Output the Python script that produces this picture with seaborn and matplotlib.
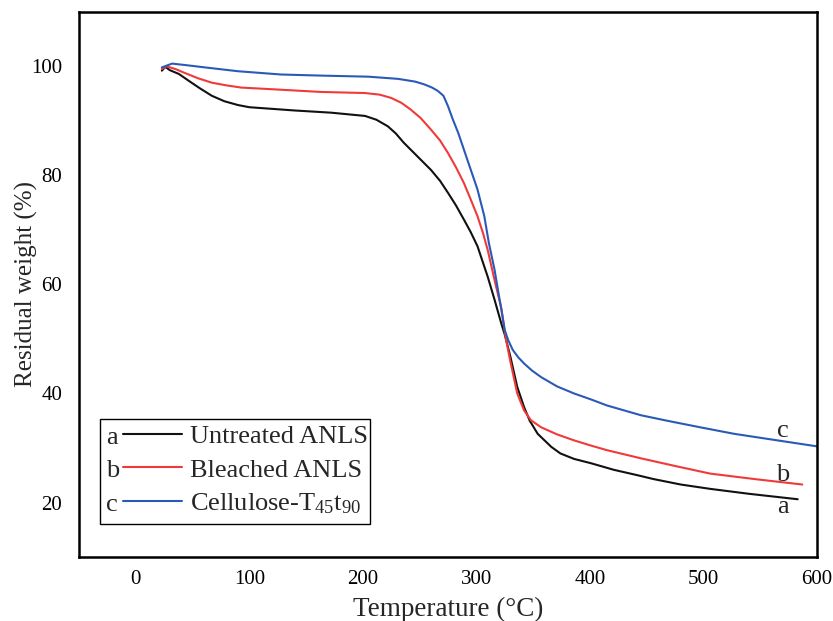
import pandas as pd
import matplotlib.pyplot as plt
import seaborn as sns
from matplotlib.legend_handler import HandlerLine2D
from matplotlib.patches import Rectangle

# Data (temperature in degC, residual weight in %)
temp_a = [23, 26, 30, 38, 47, 57, 67, 78, 90, 100, 120, 140, 172, 202, 212,
          222, 229, 236, 248, 260, 268, 275, 282, 289, 295, 301, 305, 310, 316,
          322, 325, 330, 336, 342, 347, 354, 366, 374, 386, 401, 421, 442, 456,
          480, 506, 540, 583]
weight_a = [99.2, 99.9, 99.3, 98.6, 97.3, 95.9, 94.6, 93.6, 92.9, 92.5, 92.2,
            91.9, 91.5, 90.9, 90.2, 89.0, 87.7, 86.0, 83.5, 81.0, 79.0, 76.8,
            74.5, 71.9, 69.6, 67.0, 64.5, 61.4, 57.2, 52.8, 50.8, 46.7, 41.2,
            37.5, 35.0, 32.6, 30.2, 29.0, 28.0, 27.2, 26.0, 25.0, 24.3, 23.3,
            22.5, 21.6, 20.6]

temp_b = [23, 27, 35, 43, 55, 67, 80, 93, 120, 163, 202, 215, 225, 234, 242,
          251, 260, 268, 275, 282, 289, 295, 301, 306, 310, 316, 322, 326, 330,
          336, 342, 348, 357, 371, 386, 400, 415, 445, 475, 506, 545, 587]
weight_b = [99.5, 100.0, 99.5, 98.8, 97.8, 97.0, 96.5, 96.1, 95.8, 95.3, 95.1,
            94.8, 94.2, 93.3, 92.1, 90.5, 88.4, 86.4, 84.1, 81.5, 78.6, 75.6,
            72.5, 69.3, 66.3, 60.8, 55.6, 50.0, 45.8, 40.0, 36.9, 35.1, 33.8,
            32.5, 31.4, 30.5, 29.6, 28.1, 26.7, 25.3, 24.3, 23.3]

temp_c = [23, 32, 45, 61, 90, 128, 163, 205, 231, 246, 254, 261, 266, 271, 275,
          279, 284, 292, 301, 307, 311, 316, 319, 322, 325, 328, 332, 337, 342,
          349, 357, 371, 386, 401, 415, 445, 468, 497, 527, 565, 600]
weight_c = [99.8, 100.5, 100.2, 99.8, 99.1, 98.5, 98.3, 98.1, 97.7, 97.2, 96.7,
            96.1, 95.5, 94.6, 92.7, 90.4, 87.8, 82.9, 77.4, 72.5, 67.6, 62.7,
            59.0, 55.4, 51.6, 49.8, 48.0, 46.6, 45.5, 44.2, 43.0, 41.3, 40.0,
            38.9, 37.8, 36.0, 35.0, 33.8, 32.6, 31.4, 30.3]

samples = ["Untreated ANLS", "Bleached ANLS", "Cellulose-T$_{45}$t$_{90}$"]
letters = ["a", "b", "c"]
# end-of-curve letter positions
letter_x = [570, 570, 570]
letter_y = [18.0, 24.0, 32.0]

colors = ["#111111", "#f03a3a", "#2a5ab8"]

frames = []
for name, t, w in zip(samples, [temp_a, temp_b, temp_c],
                      [weight_a, weight_b, weight_c]):
    frames.append(pd.DataFrame({"Temperature": t, "Weight": w, "Sample": name}))
df = pd.concat(frames, ignore_index=True)

sns.set_style("white")
plt.rcParams["font.family"] = ["Liberation Serif", "DejaVu Serif"]
plt.rcParams["mathtext.fontset"] = "custom"
plt.rcParams["mathtext.rm"] = "Liberation Serif"
plt.rcParams["mathtext.it"] = "Liberation Serif"

fig = plt.figure(figsize=(8.33, 6.21), dpi=100)
ax = fig.add_axes([0.0948, 0.103, 0.886, 0.878])

sns.lineplot(data=df, x="Temperature", y="Weight", hue="Sample",
             palette=dict(zip(samples, colors)), estimator=None, sort=False,
             linewidth=1.5, legend=False, ax=ax)

ax.set_xlim(-50, 600)
ax.set_ylim(10, 110)
ax.set_xticks([0, 100, 200, 300, 400, 500, 600])
ax.set_yticks([20, 40, 60, 80, 100])
ax.tick_params(axis="both", length=0, labelsize=15, colors="black")
ax.tick_params(axis="x", pad=9.5)
ax.tick_params(axis="y", pad=12)
ax.set_xlabel("Temperature (°C)", fontsize=19.5, labelpad=5.5)
ax.set_ylabel("Residual weight (%)", fontsize=18, labelpad=-5)
for s in ax.spines.values():
    s.set_linewidth(1.8)
    s.set_color("black")

for lt, x, y in zip(letters, letter_x, letter_y):
    ax.text(x, y, lt, fontsize=19, ha="center", va="baseline")

# legend: letter, line, description
lines = ax.get_lines()[:3]
leg = ax.legend(lines, samples, loc="lower left",
                bbox_to_anchor=(0.0339, 0.075), borderaxespad=0,
                fontsize=19, handlelength=2.95, handletextpad=0.3,
                labelspacing=0.38, borderpad=0, frameon=False,
                handler_map={l: HandlerLine2D(xpad=0.72) for l in lines})
for h in leg.legend_handles:
    h.set_linewidth(1.5)

fig.canvas.draw()
inv = fig.transFigure.inverted()
for h, lt in zip(leg.legend_handles, letters):
    pts = h.get_transform().transform(h.get_xydata())
    x0 = pts[:, 0].min()
    y = pts[:, 1].mean()
    fx, fy = inv.transform((x0 - 17, y - 10))
    fig.text(fx, fy, lt, fontsize=19, ha="left", va="baseline")

bb = leg.get_window_extent()
(fx0, fy0) = inv.transform((bb.x0 - 4, bb.y0 - 8))
(fx1, fy1) = inv.transform((bb.x1 + 2, bb.y1 + 6))
fig.patches.append(Rectangle((fx0, fy0), fx1 - fx0, fy1 - fy0, fill=False,
                             edgecolor="black", linewidth=1.0,
                             transform=fig.transFigure, figure=fig))

fig.savefig("out.png", dpi=100)
